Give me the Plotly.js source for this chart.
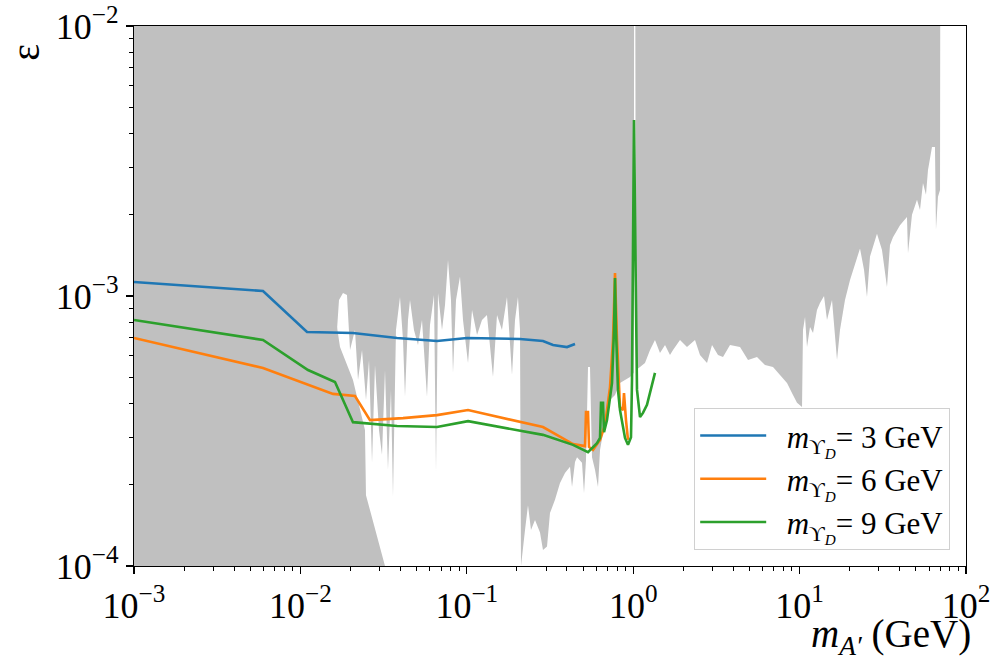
<!DOCTYPE html>
<html>
<head>
<meta charset="utf-8">
<script src="https://cdn.plot.ly/plotly-3.0.1.min.js"></script>
<style>
html,body{margin:0;padding:0;background:#fff;}
#chart{width:990px;height:662px;}
</style>
</head>
<body>
<div id="chart"></div>
<script>
// ---- Excluded region (grey): lower edge of the upper exclusion band ----
const upperMass = [0.001, 0.0157, 0.01636, 0.01706, 0.01803, 0.01905, 0.01987, 0.02128, 0.02219, 0.02346, 0.02479, 0.02585, 0.02694, 0.02807, 0.02967, 0.03093, 0.03224, 0.0336, 0.03503, 0.03601, 0.03753, 0.03968, 0.04136, 0.04252, 0.04432, 0.04557, 0.04815, 0.0509, 0.0538, 0.05765, 0.06009, 0.06352, 0.0653, 0.06713, 0.07096, 0.07396, 0.07709, 0.08035, 0.0826, 0.08613, 0.09101, 0.09489, 0.1017, 0.1075, 0.1152, 0.1234, 0.1322, 0.1437, 0.1519, 0.1627, 0.1744, 0.1869, 0.1949, 0.203, 0.2088, 0.2117, 0.2238, 0.2332, 0.2431, 0.257, 0.2754, 0.287, 0.3034, 0.3162, 0.3388, 0.3632, 0.3891, 0.4171, 0.4288, 0.447, 0.4596, 0.4924, 0.5062, 0.5204, 0.5351, 0.5501, 0.5655, 0.5894, 0.6145, 0.6318, 0.6585, 0.6863, 0.7255, 0.7775, 0.8329, 0.8929, 0.9567, 1.008, 1.012, 1.03, 1.039, 1.099, 1.177, 1.262, 1.352, 1.449, 1.553, 1.664, 1.735, 1.911, 2.105, 2.352, 2.52, 2.777, 2.976, 3.233, 3.465, 3.817, 4.384, 4.898, 5.546, 6.196, 6.921, 7.624, 8.401, 9.127, 9.647, 10.34, 10.48, 10.78, 11.08, 11.55, 12.04, 12.72, 13.26, 14.02, 14.61, 15.66, 16.78, 17.49, 18.74, 20.09, 21.53, 23.07, 24.38, 25.41, 26.49, 29.18, 31.27, 33.51, 34.93, 36.41, 40.12, 44.19, 44.81, 47.36, 50.76, 52.91, 55.15, 57.48, 59.1, 62.46, 65.1, 66.0, 67.86, 69.8, 70.0];
const upperEps = [9.66e-4, 8.87e-4, 6.58e-4, 9.66e-4, 1.026e-3, 1.009e-3, 6.31e-4, 7.48e-4, 4.89e-4, 6.31e-4, 4.12e-4, 5.79e-4, 2.41e-4, 5.55e-4, 3.19e-4, 2.58e-4, 5.32e-4, 2.27e-4, 4.49e-4, 1.80e-4, 7.48e-4, 9.92e-4, 6.87e-4, 4.23e-4, 8.15e-4, 9.66e-4, 7.48e-4, 6.58e-4, 8.15e-4, 4.23e-4, 7.81e-4, 1.009e-3, 2.23e-4, 1.026e-3, 7.48e-4, 9.26e-4, 1.36e-3, 9.66e-4, 5.19e-4, 9.66e-4, 1.18e-3, 8.15e-4, 5.65e-4, 8.87e-4, 7.17e-4, 8.15e-4, 8.50e-4, 5.01e-4, 8.50e-4, 7.48e-4, 9.92e-4, 5.10e-4, 8.15e-4, 9.92e-4, 7.48e-4, 1.0e-4, 1.36e-4, 1.68e-4, 1.36e-4, 1.48e-4, 1.33e-4, 1.146e-4, 1.18e-4, 1.57e-4, 1.76e-4, 2.03e-4, 2.21e-4, 2.33e-4, 1.96e-4, 2.43e-4, 2.53e-4, 2.41e-4, 1.86e-4, 2.47e-4, 5.46e-4, 5.46e-4, 2.53e-4, 2.27e-4, 1.96e-4, 2.69e-4, 3.11e-4, 3.62e-4, 4.12e-4, 4.30e-4, 4.76e-4, 4.89e-4, 5.01e-4, 5.19e-4, 1.0e-2, 1.0e-2, 5.32e-4, 5.46e-4, 5.65e-4, 6.31e-4, 6.87e-4, 6.15e-4, 6.58e-4, 6.05e-4, 6.31e-4, 6.87e-4, 6.47e-4, 6.87e-4, 6.05e-4, 5.65e-4, 6.58e-4, 6.05e-4, 5.94e-4, 6.58e-4, 6.47e-4, 5.79e-4, 5.94e-4, 5.55e-4, 5.46e-4, 5.10e-4, 4.76e-4, 4.30e-4, 4.02e-4, 3.88e-4, 7.48e-4, 8.36e-4, 6.47e-4, 7.68e-4, 7.29e-4, 8.87e-4, 9.42e-4, 1.0e-3, 8.15e-4, 9.66e-4, 5.79e-4, 7.48e-4, 9.66e-4, 1.146e-3, 1.30e-3, 1.50e-3, 1.25e-3, 9.92e-4, 1.40e-3, 1.70e-3, 1.48e-3, 1.08e-3, 1.545e-3, 1.65e-3, 1.83e-3, 1.96e-3, 1.44e-3, 2.00e-3, 2.27e-3, 2.08e-3, 2.62e-3, 2.37e-3, 2.93e-3, 3.56e-3, 3.56e-3, 1.76e-3, 2.33e-3, 2.47e-3, 1.0e-2];

// ---- Excluded region (grey): low-mass / low-coupling corner ----
const lowerMass = [0.001, 0.001, 0.0157, 0.0173, 0.0207, 0.02444, 0.02478, 0.03224];
const lowerEps  = [1.0e-4, 9.66e-4, 9.66e-4, 6.47e-4, 4.89e-4, 3.19e-4, 1.83e-4, 1.0e-4];

// ---- Sensitivity curves ----
const blueMass = [0.001, 0.00596, 0.01096, 0.0207, 0.0381, 0.0662, 0.1003, 0.2088, 0.287, 0.3296, 0.400, 0.447];
const blueEps  = [1.127e-3, 1.043e-3, 7.36e-4, 7.29e-4, 6.99e-4, 6.81e-4, 6.99e-4, 6.93e-4, 6.81e-4, 6.58e-4, 6.47e-4, 6.64e-4];

const orangeMass = [0.001, 0.00596, 0.0157, 0.02128, 0.0262, 0.04136, 0.0662, 0.1017, 0.287, 0.4346, 0.5133, 0.5204, 0.5351, 0.5426, 0.5734, 0.6318, 0.677, 0.7255, 0.7563, 0.7775, 0.7991, 0.8329, 0.8683, 0.8805, 0.905, 0.9305];
const orangeEps  = [6.99e-4, 5.41e-4, 4.34e-4, 4.26e-4, 3.47e-4, 3.53e-4, 3.62e-4, 3.78e-4, 3.27e-4, 2.83e-4, 2.78e-4, 3.72e-4, 3.72e-4, 2.76e-4, 2.69e-4, 2.93e-4, 3.33e-4, 4.60e-4, 6.87e-4, 1.216e-3, 6.87e-4, 3.88e-4, 3.78e-4, 4.37e-4, 3.47e-4, 2.93e-4];

const greenMass = [0.001, 0.00596, 0.01111, 0.01614, 0.0207, 0.0381, 0.0662, 0.1017, 0.287, 0.4346, 0.5351, 0.606, 0.6318, 0.6406, 0.6585, 0.6677, 0.6959, 0.7457, 0.7667, 0.7775, 0.788, 0.8101, 0.8329, 0.8929, 0.9305, 0.970, 0.9835, 1.011, 1.039, 1.054, 1.099, 1.145, 1.210, 1.262, 1.315, 1.352];
const greenEps  = [8.15e-4, 6.87e-4, 5.32e-4, 4.80e-4, 3.41e-4, 3.30e-4, 3.27e-4, 3.44e-4, 3.06e-4, 2.81e-4, 2.64e-4, 2.85e-4, 2.98e-4, 4.02e-4, 4.02e-4, 3.13e-4, 3.47e-4, 4.76e-4, 7.48e-4, 1.166e-3, 7.48e-4, 4.49e-4, 3.78e-4, 2.98e-4, 2.81e-4, 3.00e-4, 4.89e-4, 4.49e-3, 9.66e-4, 4.49e-4, 3.56e-4, 3.69e-4, 3.95e-4, 4.37e-4, 4.76e-4, 5.19e-4];

const seriesNames = ['&nbsp;&nbsp;<i>m</i><sub>ϒ<sub><i>D</i></sub></sub>= 3 GeV', '&nbsp;&nbsp;<i>m</i><sub>ϒ<sub><i>D</i></sub></sub>= 6 GeV', '&nbsp;&nbsp;<i>m</i><sub>ϒ<sub><i>D</i></sub></sub>= 9 GeV'];

// ---- Axis ticks ----
const xTickVals = [1e-3, 1e-2, 1e-1, 1, 10, 100];
const xTickText = ['10<sup>−3</sup>', '10<sup>−2</sup>', '10<sup>−1</sup>', '10<sup>0</sup>', '10<sup>1</sup>', '10<sup>2</sup>'];
const yTickVals = [1e-4, 1e-3, 1e-2];
const yTickText = ['10<sup>−4</sup>', '10<sup>−3</sup>', '10<sup>−2</sup>'];

function minorTicks(decades) {
  const out = [];
  decades.forEach(d => { for (let k = 2; k <= 9; k++) out.push(k * d); });
  return out;
}
const xMinor = minorTicks([1e-3, 1e-2, 1e-1, 1, 10]);
const yMinor = minorTicks([1e-4, 1e-3]);

const GREY = '#c0c0c0';
const FONT = 'Liberation Serif, DejaVu Serif, serif';

const traces = [
  {x: upperMass.concat([70.0, 0.001]), y: upperEps.concat([1e-2, 1e-2]), type: 'scatter', mode: 'lines',
   fill: 'toself', fillcolor: GREY, line: {width: 0, color: GREY}, showlegend: false, hoverinfo: 'skip'},
  {x: lowerMass, y: lowerEps, type: 'scatter', mode: 'lines',
   fill: 'toself', fillcolor: GREY, line: {width: 0, color: GREY}, showlegend: false, hoverinfo: 'skip'},
  {x: blueMass, y: blueEps, type: 'scatter', mode: 'lines', name: seriesNames[0], legendgroup: 'a', line: {color: '#1f77b4', width: 2.6}},
  {x: orangeMass, y: orangeEps, type: 'scatter', mode: 'lines', name: seriesNames[1], legendgroup: 'b', line: {color: '#ff7f0e', width: 2.6}},
  {x: greenMass, y: greenEps, type: 'scatter', mode: 'lines', name: seriesNames[2], legendgroup: 'c', line: {color: '#2ca02c', width: 2.6}}
];

const axisCommon = {
  type: 'log', showgrid: false, zeroline: false, showline: true, linecolor: '#000', linewidth: 1.3,
  mirror: true, ticks: 'outside', ticklen: 7, tickwidth: 1.2, tickcolor: '#000',
  tickmode: 'array', ticklabeloverflow: 'allow', tickfont: {family: FONT, size: 36, color: '#000'}
};

const layout = {
  width: 990, height: 662,
  margin: {l: 134, r: 24, t: 26, b: 96, pad: 0},
  paper_bgcolor: '#fff', plot_bgcolor: '#fff',
  font: {family: FONT, color: '#000'},
  xaxis: Object.assign({}, axisCommon, {
    range: [-3, 2], tickvals: xTickVals, ticktext: xTickText,
    minor: {tickmode: 'array', tickvals: xMinor, ticks: 'outside', ticklen: 4, tickwidth: 1, tickcolor: '#000'}
  }),
  yaxis: Object.assign({}, axisCommon, {
    range: [-4, -2], tickvals: yTickVals, ticktext: yTickText,
    minor: {tickmode: 'array', tickvals: yMinor, ticks: 'outside', ticklen: 4, tickwidth: 1, tickcolor: '#000'}
  }),
  showlegend: true,
  legend: {
    x: 0.981, xanchor: 'right', y: 0.03, yanchor: 'bottom',
    bgcolor: 'rgba(255,255,255,0.85)', bordercolor: '#d0d0d0', borderwidth: 1,
    font: {family: FONT, size: 31, color: '#000'}, itemwidth: 66, traceorder: 'grouped', tracegroupgap: 0
  },
  annotations: [
    {text: 'ε', xref: 'paper', yref: 'paper', x: -0.13, y: 0.952, xanchor: 'center', yanchor: 'middle',
     textangle: -90, showarrow: false, font: {family: FONT, size: 40, color: '#000'}},
    {text: '<i>m</i><sub><i>A′</i></sub> (GeV)', xref: 'paper', yref: 'paper', x: 1.009, y: -0.131,
     xanchor: 'right', yanchor: 'middle', showarrow: false, font: {family: FONT, size: 39, color: '#000'}}
  ]
};

Plotly.newPlot('chart', traces, layout, {displayModeBar: false, staticPlot: true});
</script>
</body>
</html>
